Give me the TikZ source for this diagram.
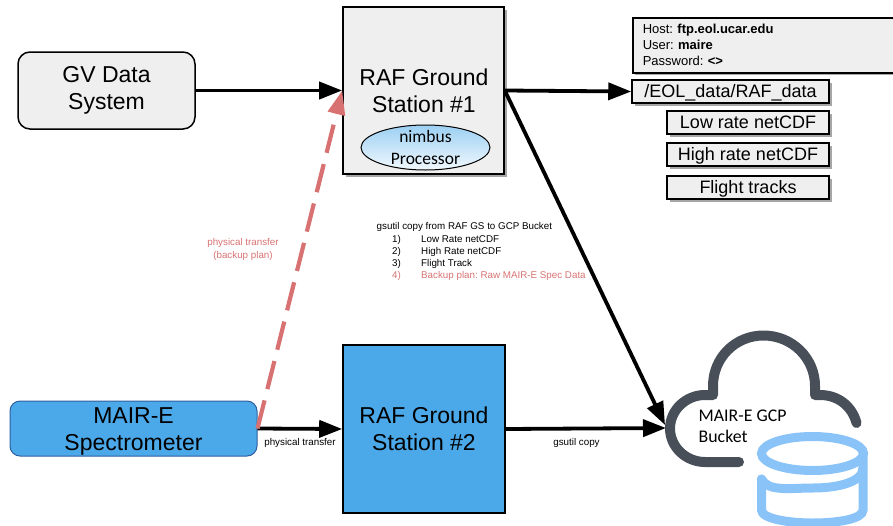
\documentclass[tikz,border=0pt]{standalone}
\usepackage{fontspec}
\setmainfont{Liberation Sans}
\newfontfamily\carl{Carlito}
\usetikzlibrary{arrows.meta,shadows,shapes.geometric}
\definecolor{boxgray}{HTML}{EFEFEF}
\definecolor{skyb}{HTML}{4BA9E9}
\definecolor{mairedge}{HTML}{2F5F9E}
\definecolor{redl}{HTML}{D87272}
\definecolor{cloudc}{HTML}{484F59}
\definecolor{dbc}{HTML}{8AC3F8}
\tikzset{
 x=1pt,y=-1pt,
 shad/.style={drop shadow={shadow xshift=2.5pt,shadow yshift=-2.5pt,opacity=.35,fill=black}},
 sqbox/.style={draw=black,line width=1.6pt,fill=boxgray,shad,inner sep=0pt,align=center},
 listbox/.style={sqbox,line width=1.5pt,font=\fontsize{18}{20}\selectfont,text height=14.5pt,text depth=2.5pt},
 flow/.style={line width=3.8pt,draw=black,-{Triangle[length=23pt,width=17pt]}},
 small/.style={font=\fontsize{9.8}{13}\selectfont,inner sep=0pt},
}
\begin{document}
\frenchspacing
\begin{tikzpicture}
\useasboundingbox (0,0) rectangle (893,525);
\clip (0,0) rectangle (893,525);
\node[draw=black,line width=1.5pt,fill=boxgray,rounded corners=12pt,minimum width=177pt,minimum height=77pt,inner sep=0pt,align=center,font=\fontsize{23}{27.5}\selectfont] (gv) at (106.5,90.5) {GV Data\\[-0.5pt]System};
\node[sqbox,minimum width=161pt,minimum height=167pt] (raf1) at (423.5,90.5) {};
\node[font=\fontsize{23}{27.5}\selectfont,align=center,inner sep=0pt] (raf1t) at (424,91) {RAF Ground\\Station \#1};
\node[ellipse,draw=black,line width=1pt,top color=skyb!55,bottom color=skyb!8,minimum width=129pt,minimum height=45pt,inner sep=0pt] (nimb) at (425.5,147.5) {};
\node[font=\carl\fontsize{17.5}{22}\selectfont,align=center,inner sep=0pt] (nimbt) at (425.5,147.5) {nimbus\\Processor};
\node[draw=black,line width=1.6pt,fill=skyb,minimum width=162pt,minimum height=168pt,inner sep=0pt,align=center,font=\fontsize{23}{27.5}\selectfont] (raf2) at (424,429) {RAF Ground\\Station \#2};
\node[draw=mairedge,line width=1pt,fill=skyb,rounded corners=10pt,minimum width=247pt,minimum height=55pt,inner sep=0pt] (mair) at (133.5,428.5) {};
\node[align=center,inner sep=0pt,font=\fontsize{23}{27.5}\selectfont] (mairt) at (133.5,431.5) {MAIR-E\\Spectrometer};
\node[sqbox,anchor=north west,minimum width=290pt,minimum height=55pt,align=left,text width=270pt,font=\fontsize{13}{16}\selectfont,line width=1.5pt] (host) at (632,17) {Host: \textbf{ftp.eol.ucar.edu}\\User: \textbf{maire}\\Password: \textbf{<>}};
\node[listbox,minimum width=197pt,minimum height=23pt] (eol) at (730.5,91.5) {/EOL\_data/RAF\_data};
\node[listbox,minimum width=162pt,minimum height=23pt] (low) at (748,122.5) {Low rate netCDF};
\node[listbox,minimum width=162pt,minimum height=23pt] (high) at (748,154.5) {High rate netCDF};
\node[listbox,minimum width=162pt,minimum height=23pt] (tracks) at (748,187.5) {Flight tracks};
% cloud
\draw[cloudc,line width=10pt,line cap=round,line join=round]
 (856.5,423) .. controls (852,406) and (838,395) .. (820,395) -- (815,395) -- (815,386)
 .. controls (815,358) and (792,335.5) .. (763.5,335.5)
 .. controls (735,335.5) and (713,358) .. (713,386) -- (713,395) -- (705,395)
 .. controls (686,395) and (670,410) .. (670,428.5)
 .. controls (670,447) and (686,462) .. (705,462) -- (739,462);
\coordinate (cloudin) at (666,428);
\coordinate (cloudin2) at (665,425);
\node[anchor=west,font=\carl\fontsize{17.8}{21}\selectfont,align=left,inner sep=0pt] (bucket) at (698.5,426.5) {MAIR-E GCP\\Bucket};
% database
\draw[dbc,line width=9pt] (812.5,453.5) ellipse [x radius=51,y radius=17];
\draw[dbc,line width=9pt,line cap=round] (761.5,479) .. controls (768,492) and (790,488) .. (812.5,488) .. controls (838,488) and (863,482) .. (863,468);
\draw[dbc,line width=9pt,line cap=round] (761.5,479) -- (761.5,510) .. controls (761.5,519) and (790,523) .. (812.5,523) .. controls (838,523) and (863,519) .. (863,510) -- (863,453);
% connectors
\draw[flow] (gv.east) -- (raf1.west);
\draw[flow] (raf1.east) -- (eol.west);
\draw[flow] (raf1.east) -- (cloudin2);
\draw[flow] (mair.east) -- (raf2.west);
\draw[flow] (raf2.east) -- (cloudin);
\draw[draw=redl,line width=4.2pt,dash pattern=on 29pt off 11.6pt,-{Triangle[length=24pt,width=17pt]}] (mair.east) -- (raf1.west);
% labels
\node[small,text=redl,align=center] (phys1) at (243,249.5) {physical transfer\\(backup plan)};
\node[small] (phys2) at (300,443) {physical transfer};
\node[small] (gsc) at (576.5,443) {gsutil copy};
\node[small,anchor=west] (g0) at (376.5,227) {gsutil copy from RAF GS to GCP Bucket};
\node[small,anchor=west] (g1) at (392,239.5) {1)};
\node[small,anchor=west] (g1t) at (421,239.5) {Low Rate netCDF};
\node[small,anchor=west] (g2) at (392,252) {2)};
\node[small,anchor=west] (g2t) at (421,252) {High Rate netCDF};
\node[small,anchor=west] (g3) at (392,264) {3)};
\node[small,anchor=west] (g3t) at (421,264) {Flight Track};
\node[small,anchor=west,text=redl] (g4) at (392,275.5) {4)};
\node[small,anchor=west,text=redl] (g4t) at (421,275.5) {Backup plan: Raw MAIR-E Spec Data};
\end{tikzpicture}
\end{document}
